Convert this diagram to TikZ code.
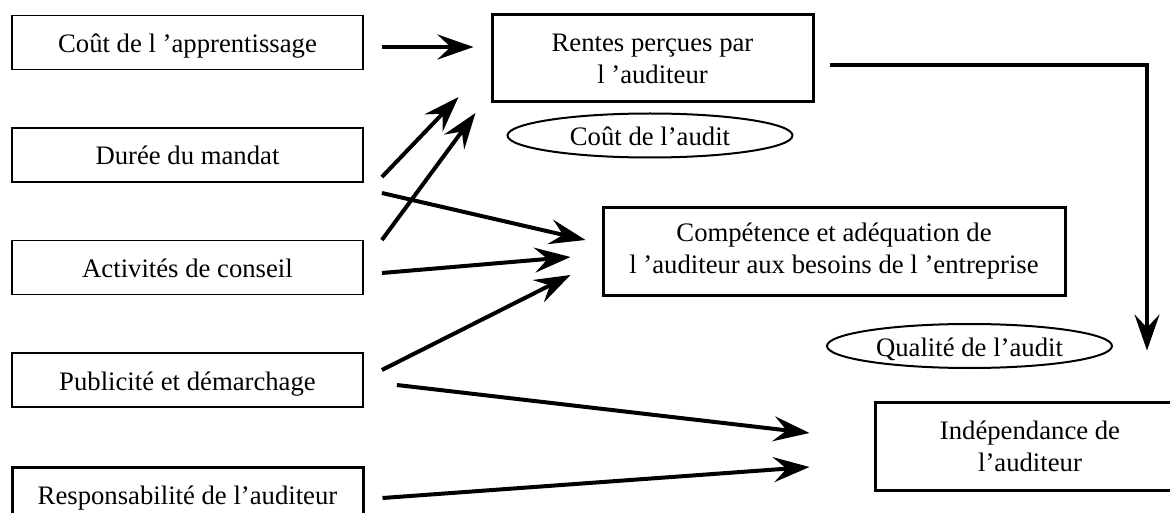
\documentclass[tikz,border=0pt]{standalone}
\usepackage{fontspec}
\setmainfont{Liberation Serif}
\usetikzlibrary{arrows.meta,shapes.geometric}
\begin{document}
\begin{tikzpicture}[x=1pt,y=-1pt,font=\fontsize{26.7}{32}\selectfont,
  cause/.style={draw,line width=1.8pt,minimum width=351pt,minimum height=54pt,inner sep=0pt,text height=20pt,text depth=-6pt},
  effet/.style={draw,line width=3pt,align=center,inner sep=0pt},
  cout/.style={draw,ellipse,line width=2pt,minimum width=285pt,minimum height=44pt,inner sep=0pt,text height=20pt,text depth=-3pt},
  fleche/.style={line width=4pt,-{Stealth[length=36pt,width=25pt,inset=13pt]}}]
  \useasboundingbox (0,0) rectangle (1170,513);

  \node[cause] (appr) at (187.5,42.5) {Coût de l ’apprentissage};
  \node[cause] (duree) at (187.5,155) {Durée du mandat};
  \node[cause] (conseil) at (187.5,267.5) {Activités de conseil};
  \node[cause] (pub) at (187.5,380) {Publicité et démarchage};
  \node[cause,line width=3pt] (resp) at (187.5,494.5) {Responsabilité de l’auditeur};
  %%%%%%%%%%%%%%%%%%%%%
  \node[effet,minimum width=321pt,minimum height=87pt] (rentes) at (652.5,58.5) {Rentes perçues par\\l ’auditeur};
  \node[cout] (caudit) at (650,135.5) {Coût de l’audit};
  \node[effet,minimum width=462pt,minimum height=87pt] (comp) at (834,251.5) {Compétence et adéquation de\\l ’auditeur aux besoins de l ’entreprise};
  \node[cout] (qaudit) at (969.5,346) {Qualité de l’audit};
  \node[effet,minimum width=310pt,minimum height=88pt] (indep) at (1030,446) {Indépendance de\\l’auditeur};
  %%%%%%%%%%%%%%%%%%%%%
  \draw[fleche] ([xshift=18pt,yshift=-4.5pt]appr.east) -- ([xshift=-17pt,yshift=11.5pt]rentes.west);
  \draw[fleche] ([xshift=18pt,yshift=-22pt]duree.east) -- ([xshift=-32pt,yshift=-38.5pt]rentes.west);
  \draw[fleche] ([xshift=18pt,yshift=27.5pt]conseil.east) -- ([xshift=-15pt,yshift=-54.5pt]rentes.west);
  \draw[fleche] ([xshift=18pt,yshift=-38pt]duree.east) -- ([xshift=-16pt,yshift=11.5pt]comp.west);
  \draw[fleche] ([xshift=18pt,yshift=-5.5pt]conseil.east) -- ([xshift=-31pt,yshift=-5.5pt]comp.west);
  \draw[fleche] ([xshift=18pt,yshift=10pt]pub.east) -- ([xshift=-31pt,yshift=-23.5pt]comp.west);
  \draw[fleche] ([xshift=33pt,yshift=-5pt]pub.east) -- ([xshift=-64pt,yshift=13pt]indep.west);
  \draw[fleche] ([xshift=18pt,yshift=-3.5pt]resp.east) -- ([xshift=-64pt,yshift=-21pt]indep.west);
  %
  \draw[fleche,line width=3.2pt] ([xshift=15pt,yshift=-6.5pt]rentes.east) -| ([xshift=117pt,yshift=50pt]indep.north);
\end{tikzpicture}
\end{document}
